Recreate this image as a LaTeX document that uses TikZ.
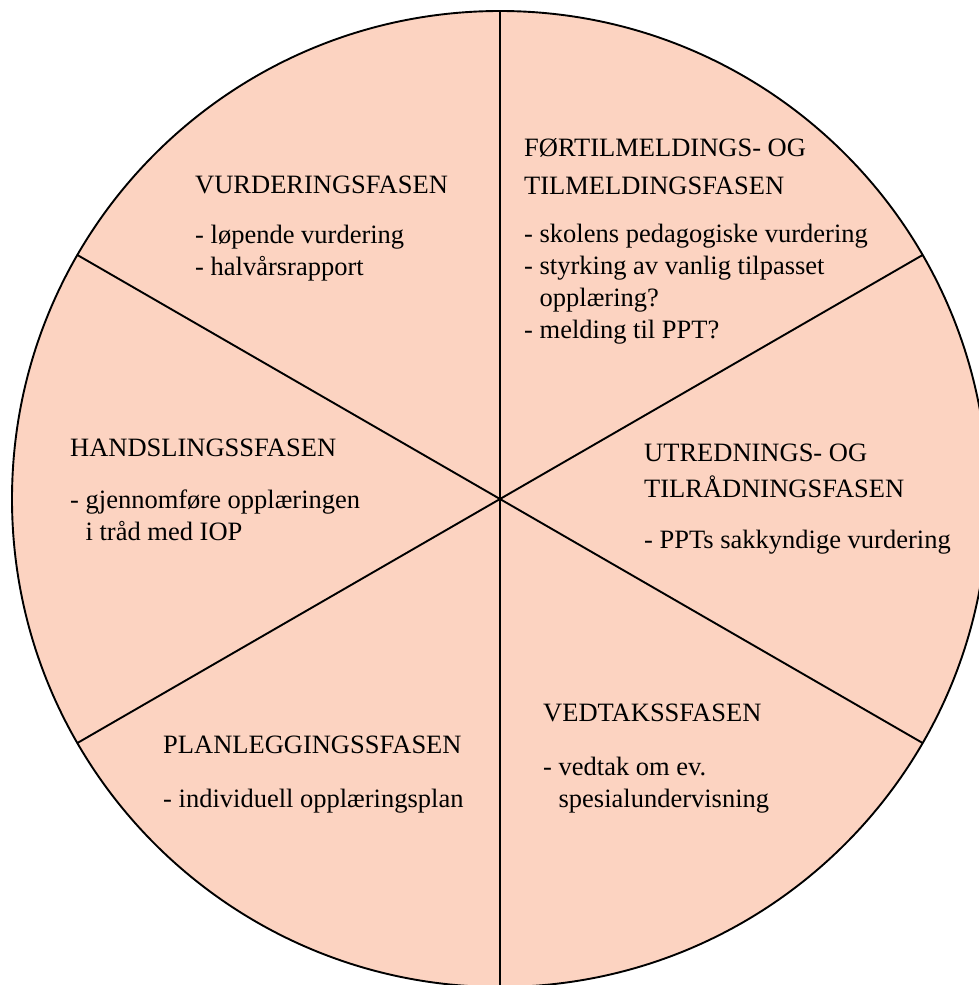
\documentclass[tikz,border=0pt]{standalone}
\usepackage{fontspec}
\setmainfont{Liberation Serif}
\usepackage{tikz}
\definecolor{sectorfill}{RGB}{252,211,193}
\tikzstyle{wheel} = [draw, line width=1.9pt, fill=sectorfill]
\tikzstyle{spoke} = [draw, line width=1.9pt]
\tikzstyle{phase} = [anchor=base west, align=left, inner sep=0pt, font=\fontsize{26.5}{32}\selectfont]
\newcommand{\ind}{\phantom{- }}

\begin{document}
\begin{tikzpicture}[x=1pt, y=-1pt]

	\useasboundingbox (0,0) rectangle (979,985);
	\clip (0,0) rectangle (979,985);

	% Draw wheel
	\coordinate (centre) at (500,499);
	\path [wheel] (centre) circle (488);
	\foreach \a in {90,30,-30,-90,-150,150}
		\path [spoke] (centre) -- ++(\a:488);

	% Place nodes (anchored on the last line)
	\node [phase] at (195,275) (vurdering) {VURDERINGSFASEN\\[18pt]
		- løpende vurdering\\ - halvårsrapport};
	\node [phase] at (524,338) (tilmelding) {FØRTILMELDINGS- OG\\[6pt] TILMELDINGSFASEN\\[16pt]
		- skolens pedagogiske vurdering\\ - styrking av vanlig tilpasset\\ \ind opplæring?\\ - melding til PPT?};
	\node [phase] at (644,548) (utredning) {UTREDNINGS- OG\\[4pt] TILRÅDNINGSFASEN\\[19pt]
		- PPTs sakkyndige vurdering};
	\node [phase] at (543,807) (vedtak) {VEDTAKSSFASEN\\[22pt]
		- vedtak om ev.\\ \ind spesialundervisning};
	\node [phase] at (163,807) (planlegging) {PLANLEGGINGSSFASEN\\[22pt]
		- individuell opplæringsplan};
	\node [phase] at (70,540) (handling) {HANDSLINGSSFASEN\\[20pt]
		- gjennomføre opplæringen\\ \ind i tråd med IOP};

\end{tikzpicture}
\end{document}
